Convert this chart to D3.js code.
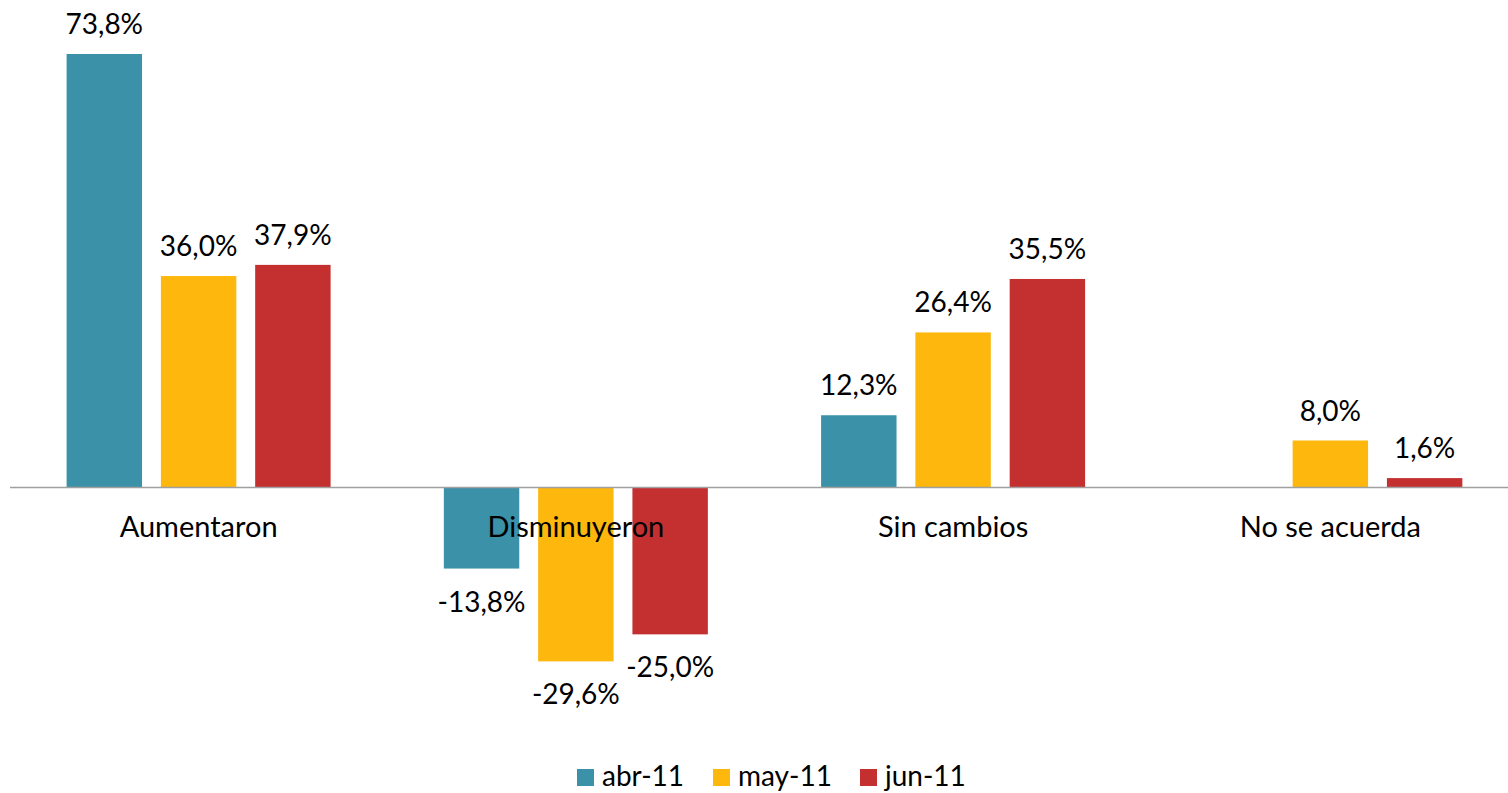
<!DOCTYPE html>
<html>
<head>
<meta charset="utf-8">
<script src="https://cdn.jsdelivr.net/npm/d3@7"></script>
<style>
  body { margin: 0; background: #fff; }
  text { font-family: Lato, "Open Sans", sans-serif; fill: #000; }
</style>
</head>
<body>
<div class="canvas"></div>
<script>
// data
const categories = ['Aumentaron', 'Disminuyeron', 'Sin cambios', 'No se acuerda'];
const seriesNames = ['abr-11', 'may-11', 'jun-11'];
const abr11 = [73.8, -13.8, 12.3, null];
const may11 = [36.0, -29.6, 26.4, 8.0];
const jun11 = [37.9, -25.0, 35.5, 1.6];
const colors = ['#3A91A8', '#FDB70D', '#C42F30'];

const width = 1508, height = 793;

const svg = d3.select('.canvas')
  .append('svg')
  .attr('width', width)
  .attr('height', height);

// scales
const x0 = d3.scaleBand()
  .domain(categories)
  .range([10, 1519]);

const x1 = d3.scaleBand()
  .domain(seriesNames)
  .range([56.6, 320.6])
  .paddingInner(0.2);

const y = d3.scaleLinear()
  .domain([0, 73.8])
  .range([487.5, 54]);

const color = d3.scaleOrdinal().domain(seriesNames).range(colors);

// excel style: comma decimal, plain hyphen
const fmt = v => (v < 0 ? '-' : '') + Math.abs(v).toFixed(1).replace('.', ',') + '%';

const allSeries = [abr11, may11, jun11];
const rows = [];
categories.forEach((c, i) => {
  seriesNames.forEach((s, j) => {
    const v = allSeries[j][i];
    if (v !== null) rows.push({ cat: c, series: s, value: v });
  });
});

// bars
const groups = svg.selectAll('g.grp')
  .data(categories)
  .enter().append('g')
  .attr('class', 'grp')
  .attr('transform', d => `translate(${x0(d)},0)`);

groups.selectAll('rect')
  .data(c => rows.filter(r => r.cat === c))
  .enter().append('rect')
  .attr('x', d => x1(d.series))
  .attr('width', x1.bandwidth())
  .attr('y', d => y(Math.max(0, d.value)))
  .attr('height', d => Math.abs(y(d.value) - y(0)))
  .attr('fill', d => color(d.series));

// value labels
groups.selectAll('text.val')
  .data(c => rows.filter(r => r.cat === c))
  .enter().append('text')
  .attr('class', 'val')
  .attr('x', d => x1(d.series) + x1.bandwidth() / 2)
  .attr('y', d => d.value >= 0 ? y(d.value) - 20 : y(d.value) + 43)
  .attr('text-anchor', 'middle')
  .attr('font-size', 28)
  .text(d => fmt(d.value));

// zero axis line
svg.append('line')
  .attr('x1', 10).attr('x2', width)
  .attr('y1', y(0)).attr('y2', y(0))
  .attr('stroke', '#A0A0A0')
  .attr('stroke-width', 1.5);

// category labels
svg.selectAll('text.cat')
  .data(categories)
  .enter().append('text')
  .attr('class', 'cat')
  .attr('x', d => x0(d) + x0.bandwidth() / 2)
  .attr('y', 537)
  .attr('text-anchor', 'middle')
  .attr('font-size', 29)
  .text(d => d);

// legend
const legendX = [577, 713, 860];
const legend = svg.selectAll('g.leg')
  .data(seriesNames)
  .enter().append('g')
  .attr('class', 'leg')
  .attr('transform', (d, i) => `translate(${legendX[i]},769)`);

legend.append('rect')
  .attr('width', 17).attr('height', 17)
  .attr('fill', d => color(d));

legend.append('text')
  .attr('x', 25).attr('y', 17)
  .attr('font-size', 28)
  .text(d => d);
</script>
</body>
</html>
